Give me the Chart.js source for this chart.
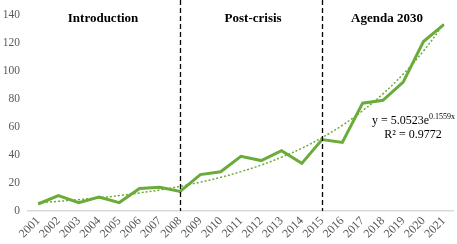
<!DOCTYPE html>
<html>
<head>
<meta charset="utf-8">
<script src="https://cdn.jsdelivr.net/npm/chart.js@4"></script>
<style>
  html, body { margin: 0; padding: 0; background: #fff; }
  #wrap { width: 457px; height: 244px; }
</style>
</head>
<body>
<div id="wrap"><canvas id="chart"></canvas></div>
<script>
// años
const years = ['2001','2002','2003','2004','2005','2006','2007','2008','2009','2010','2011',
  '2012','2013','2014','2015','2016','2017','2018','2019','2020','2021'];
// serie principal
const counts = [5, 11, 6, 10, 6, 16, 17, 14, 26, 28, 39, 36, 43, 34, 51, 49, 77, 79, 92, 121, 133];
// línea de tendencia (exponencial)
const trend = [5.9, 6.9, 8.1, 9.4, 11, 12.9, 15, 17.6, 20.6, 24, 28.1, 32.8, 38.4, 44.8, 52.4,
  61.2, 71.6, 83.6, 97.7, 114.2, 133.5];
const yTicks = [0, 20, 40, 60, 80, 100, 120, 140];
const periodBreaks = ['2008', '2015'];
const periodNames = ['Introduction', 'Post-crisis', 'Agenda 2030'];
const periodCenters = [3.2, 10.6, 17.2]; // posición en índice de categoría
const equation = ['y = 5.0523e', '0.1559x'];
const rSquared = 'R² = 0.9772';

const green = '#6aab3a';

// plugin para las líneas punteadas y los textos
const annotations = {
  id: 'annotations',
  afterDatasetsDraw(chart) {
    const { ctx, scales: { x, y } } = chart;
    ctx.save();
    ctx.strokeStyle = '#000';
    ctx.lineWidth = 1.3;
    ctx.setLineDash([5, 3]);
    periodBreaks.forEach(b => {
      const px = Math.round(x.getPixelForValue(years.indexOf(b))) + 0.5;
      ctx.beginPath();
      ctx.moveTo(px, 0);
      ctx.lineTo(px, y.getPixelForValue(0));
      ctx.stroke();
    });
    ctx.setLineDash([]);

    ctx.fillStyle = '#000';
    ctx.font = 'bold 13px "Liberation Serif", serif';
    ctx.textAlign = 'center';
    ctx.textBaseline = 'middle';
    periodNames.forEach((n, i) => {
      ctx.fillText(n, x.getPixelForValue(periodCenters[i]), 19);
    });

    // ecuación
    ctx.font = '12px "Liberation Serif", serif';
    ctx.textAlign = 'left';
    ctx.textBaseline = 'alphabetic';
    const ex = 372, ey = 124;
    ctx.fillText(equation[0], ex, ey);
    const w = ctx.measureText(equation[0]).width;
    ctx.font = '8px "Liberation Serif", serif';
    ctx.fillText(equation[1], ex + w, ey - 5);
    ctx.font = '12px "Liberation Serif", serif';
    ctx.textAlign = 'center';
    ctx.fillText(rSquared, 413, 138);
    ctx.restore();
  }
};

new Chart(document.getElementById('chart'), {
  type: 'line',
  data: {
    labels: years,
    datasets: [
      {
        label: 'Publicaciones',
        data: counts,
        borderColor: green,
        borderWidth: 3,
        pointRadius: 0,
        tension: 0,
        fill: false,
      },
      {
        label: 'Tendencia',
        data: trend,
        borderColor: green,
        borderWidth: 1.5,
        borderDash: [2, 2],
        pointRadius: 0,
        tension: 0.4,
        fill: false,
      },
    ],
  },
  options: {
    responsive: true,
    maintainAspectRatio: false,
    animation: false,
    layout: { padding: { top: 13, right: 3, left: 0, bottom: 0 } },
    plugins: { legend: { display: false }, tooltip: { enabled: false } },
    scales: {
      x: {
        offset: true,
        grid: { display: false, drawTicks: false },
        border: { color: '#d9d9d9', width: 1.5 },
        ticks: {
          color: '#595959',
          font: { family: '"Liberation Serif", serif', size: 12 },
          maxRotation: 45,
          minRotation: 45,
          autoSkip: false,
          padding: 3,
        },
        afterFit(scale) { scale.height = 33; },
      },
      y: {
        min: 0,
        max: 140,
        grid: { display: false, drawTicks: false },
        border: { display: false },
        afterBuildTicks(scale) { scale.ticks = yTicks.map(v => ({ value: v })); },
        ticks: {
          color: '#595959',
          font: { family: '"Liberation Serif", serif', size: 11.5 },
          padding: 8,
        },
        afterFit(scale) { scale.width = 28; },
      },
    },
  },
  plugins: [annotations],
});
</script>
</body>
</html>
